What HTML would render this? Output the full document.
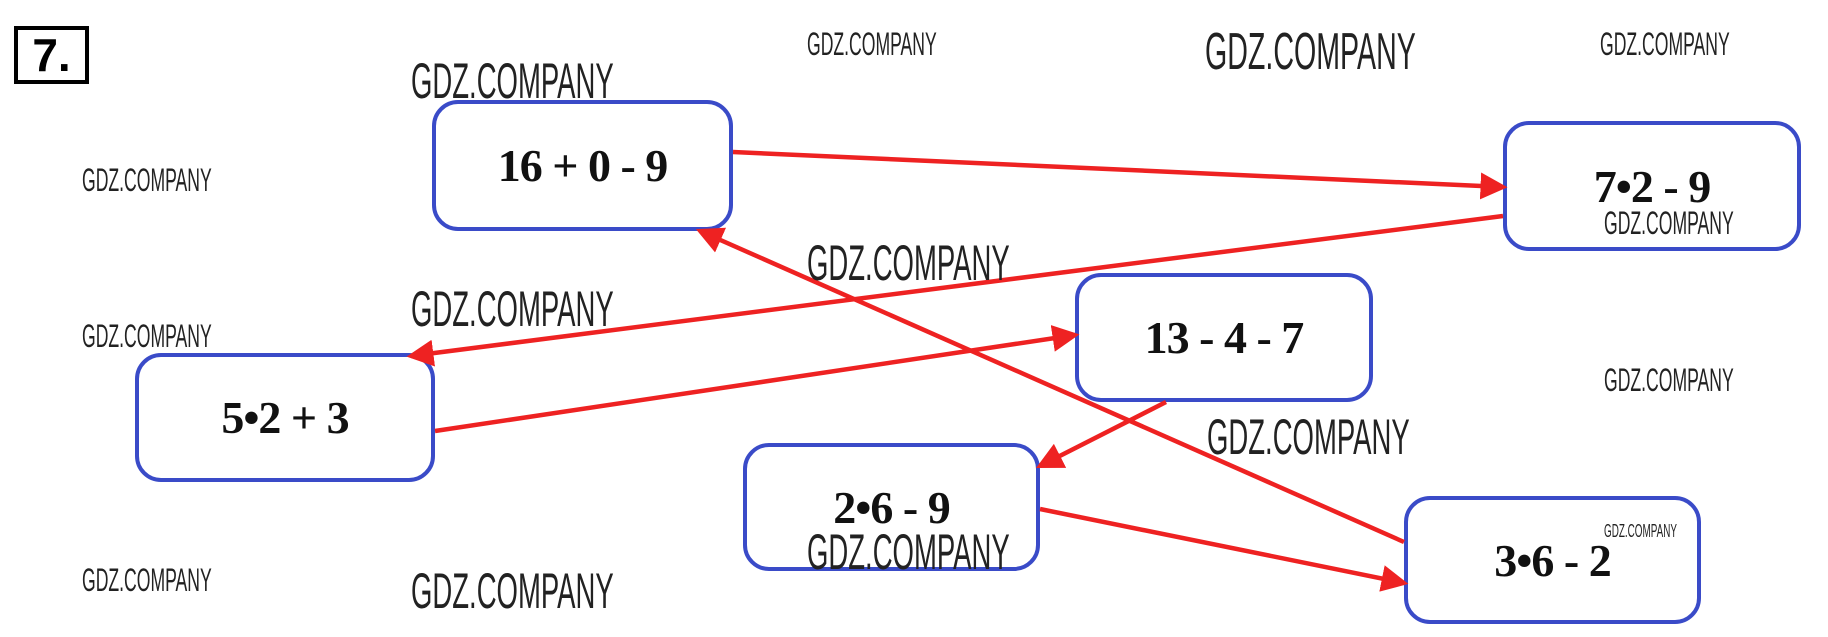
<!DOCTYPE html>
<html><head><meta charset="utf-8"><style>
body{margin:0;width:1828px;height:637px;background:#fff;position:relative;overflow:hidden;font-family:"Liberation Sans",sans-serif}
.b{position:absolute;border:4px solid #3a4bc8;border-radius:26px;box-sizing:border-box;background:#fff;display:flex;align-items:center;justify-content:center;font-family:"Liberation Serif",serif;font-weight:bold;font-size:46px;color:#111;letter-spacing:-1px}
.w{position:absolute;white-space:nowrap;color:#222;transform-origin:0 0;transform:scaleX(0.55)}
svg{position:absolute;left:0;top:0}
</style></head><body>
<div style="position:absolute;left:14px;top:26px;width:75px;height:58px;border:4px solid #000;box-sizing:border-box;font:bold 46px 'Liberation Sans',sans-serif;display:flex;align-items:center;justify-content:center">7.</div>
<div class="b" style="left:432px;top:100px;width:301px;height:131px">16 + 0 - 9</div>
<div class="b" style="left:1503px;top:121px;width:298px;height:130px">7•2 - 9</div>
<div class="b" style="left:1075px;top:273px;width:298px;height:129px">13 - 4 - 7</div>
<div class="b" style="left:135px;top:353px;width:300px;height:129px">5•2 + 3</div>
<div class="b" style="left:743px;top:443px;width:297px;height:128px">2•6 - 9</div>
<div class="b" style="left:1404px;top:496px;width:297px;height:128px">3•6 - 2</div>
<svg width="1828" height="637">
<defs><marker id="a" markerWidth="6" markerHeight="6" refX="5" refY="3" orient="auto" markerUnits="strokeWidth"><path d="M0,0 L6,3 L0,6 z" fill="#ee2222"/></marker></defs>
<g stroke="#ee2222" stroke-width="4.5" fill="none" marker-end="url(#a)">
<line x1="733" y1="152" x2="1503" y2="187"/>
<line x1="1503" y1="216" x2="411" y2="356"/>
<line x1="435" y1="431" x2="1075" y2="335"/>
<line x1="1404" y1="542" x2="700" y2="231"/>
<line x1="1166" y1="402" x2="1040" y2="466"/>
<line x1="1040" y1="509" x2="1404" y2="583"/>
</g></svg>
<div class="w" style="left:411px;top:52px;font-size:50px">GDZ.COMPANY</div>
<div class="w" style="left:807px;top:26px;font-size:32px">GDZ.COMPANY</div>
<div class="w" style="left:1205px;top:22px;font-size:52px">GDZ.COMPANY</div>
<div class="w" style="left:1600px;top:26px;font-size:32px">GDZ.COMPANY</div>
<div class="w" style="left:82px;top:162px;font-size:32px">GDZ.COMPANY</div>
<div class="w" style="left:1604px;top:205px;font-size:32px">GDZ.COMPANY</div>
<div class="w" style="left:807px;top:234px;font-size:50px">GDZ.COMPANY</div>
<div class="w" style="left:411px;top:280px;font-size:50px">GDZ.COMPANY</div>
<div class="w" style="left:82px;top:318px;font-size:32px">GDZ.COMPANY</div>
<div class="w" style="left:1604px;top:362px;font-size:32px">GDZ.COMPANY</div>
<div class="w" style="left:1207px;top:408px;font-size:50px">GDZ.COMPANY</div>
<div class="w" style="left:807px;top:523px;font-size:50px">GDZ.COMPANY</div>
<div class="w" style="left:1604px;top:521px;font-size:18px">GDZ.COMPANY</div>
<div class="w" style="left:82px;top:562px;font-size:32px">GDZ.COMPANY</div>
<div class="w" style="left:411px;top:562px;font-size:50px">GDZ.COMPANY</div>
</body></html>
